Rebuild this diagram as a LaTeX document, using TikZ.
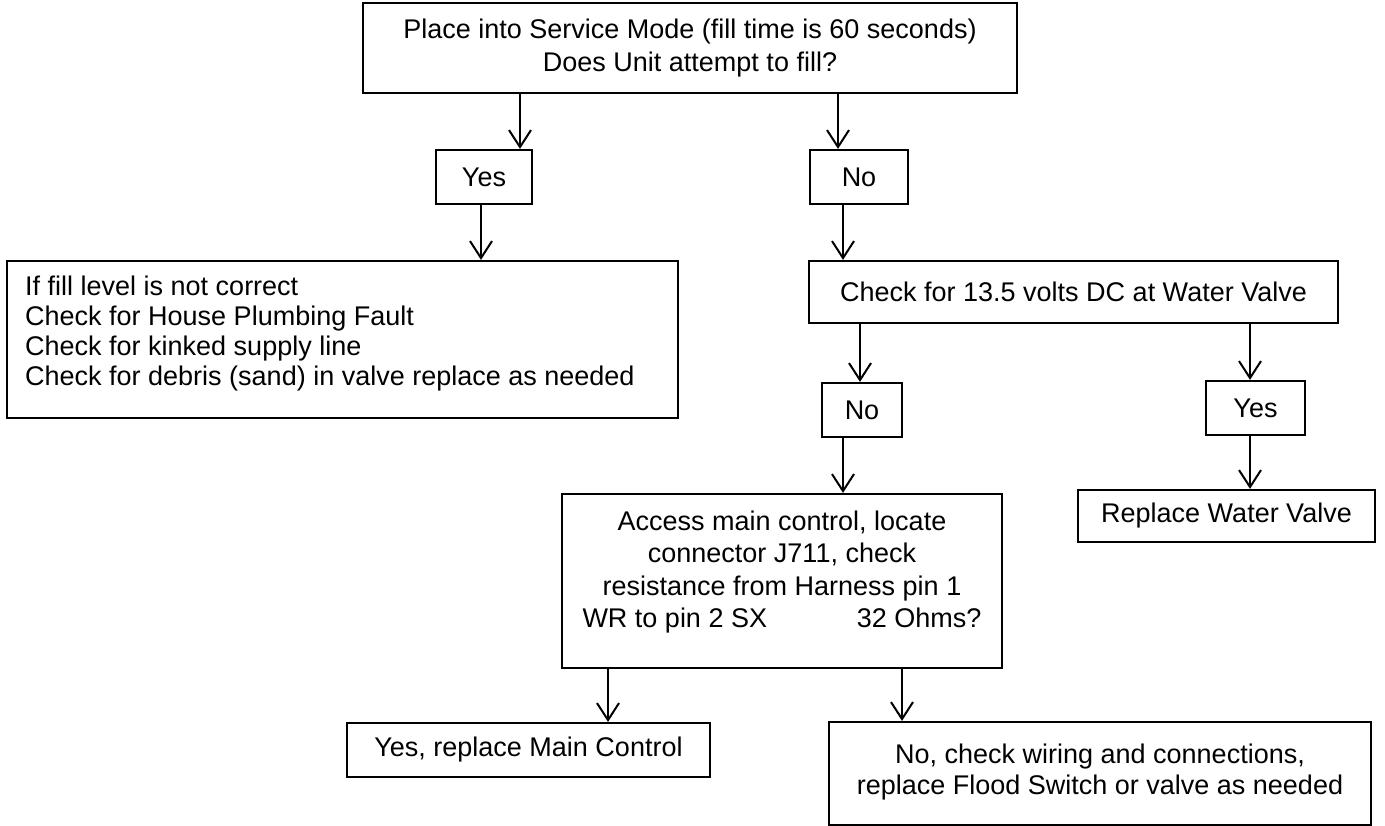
\documentclass[tikz,border=0pt]{standalone}
\usepackage{fontspec}
\setmainfont{Liberation Sans}
\usetikzlibrary{arrows.meta}
\begin{document}
\begin{tikzpicture}[x=1pt,y=-1pt,
  box/.style={draw, line width=2.2pt, inner sep=0pt, align=center, font=\fontsize{27}{32.5}\selectfont},
  txt/.style={inner sep=0pt, font=\fontsize{27}{32.5}\selectfont},
  arr/.style={line width=2pt, -{Straight Barb[length=17pt,width=22pt,line width=2pt]}}]
\useasboundingbox[fill=white] (0,0) rectangle (1385,826);
\node[box, minimum width=654pt, minimum height=90pt] (top) at (690,48)
  {Place into Service Mode (fill time is 60 seconds)\\Does Unit attempt to fill?};
\node[box, minimum width=96pt, minimum height=54pt] (yes1) at (484,177) {Yes};
\node[box, minimum width=98pt, minimum height=54pt] (no1) at (859,177) {No};
\node[box, minimum width=671pt, minimum height=157pt] (left) at (342.5,339.5) {};
\node[txt, align=left, anchor=west, font=\fontsize{27}{30}\selectfont] (lefttext) at (25,334)
  {If fill level is not correct\\Check for House Plumbing Fault\\Check for kinked supply line\\Check for debris (sand) in valve replace as needed};
\node[box, minimum width=529pt, minimum height=62pt] (check) at (1073.5,292)
  {Check for 13.5 volts DC at Water Valve};
\node[box, minimum width=80pt, minimum height=54pt] (no2) at (862,410) {No};
\node[box, minimum width=99pt, minimum height=54pt] (yes2) at (1255.5,408) {Yes};
\node[box, minimum width=440pt, minimum height=174pt] (access) at (782,581) {};
\node[txt, align=center] (accesstext) at (782,572)
  {Access main control, locate\\connector J711, check\\resistance from Harness pin 1\\\makebox[399pt][s]{WR to pin 2 SX\hfill 32 Ohms?}};
\node[box, minimum width=297pt, minimum height=52pt] (replace) at (1226.5,516) {Replace Water Valve};
\node[box, minimum width=363pt, minimum height=54pt] (yesmain) at (528.5,750) {Yes, replace Main Control};
\node[box, minimum width=542pt, minimum height=103pt] (nocheck) at (1100,773.5) {};
\node[txt, align=center, font=\fontsize{27}{31}\selectfont] (nochecktext) at (1100,772)
  {No, check wiring and connections,\\replace Flood Switch or valve as needed};
\draw[arr] (top.south -| 520,0) -- (yes1.north -| 520,0);
\draw[arr] (top.south -| 838,0) -- (no1.north -| 838,0);
\draw[arr] (yes1.south -| 481,0) -- (left.north -| 481,0);
\draw[arr] (no1.south -| 843,0) -- (check.north -| 843,0);
\draw[arr] (check.south -| 860,0) -- (no2.north -| 860,0);
\draw[arr] (check.south -| 1250,0) -- (yes2.north -| 1250,0);
\draw[arr] (no2.south -| 843,0) -- (access.north -| 843,0);
\draw[arr] (yes2.south -| 1250,0) -- (replace.north -| 1250,0);
\draw[arr] (access.south -| 608,0) -- (yesmain.north -| 608,0);
\draw[arr] (access.south -| 902,0) -- (nocheck.north -| 902,0);
\end{tikzpicture}
\end{document}
